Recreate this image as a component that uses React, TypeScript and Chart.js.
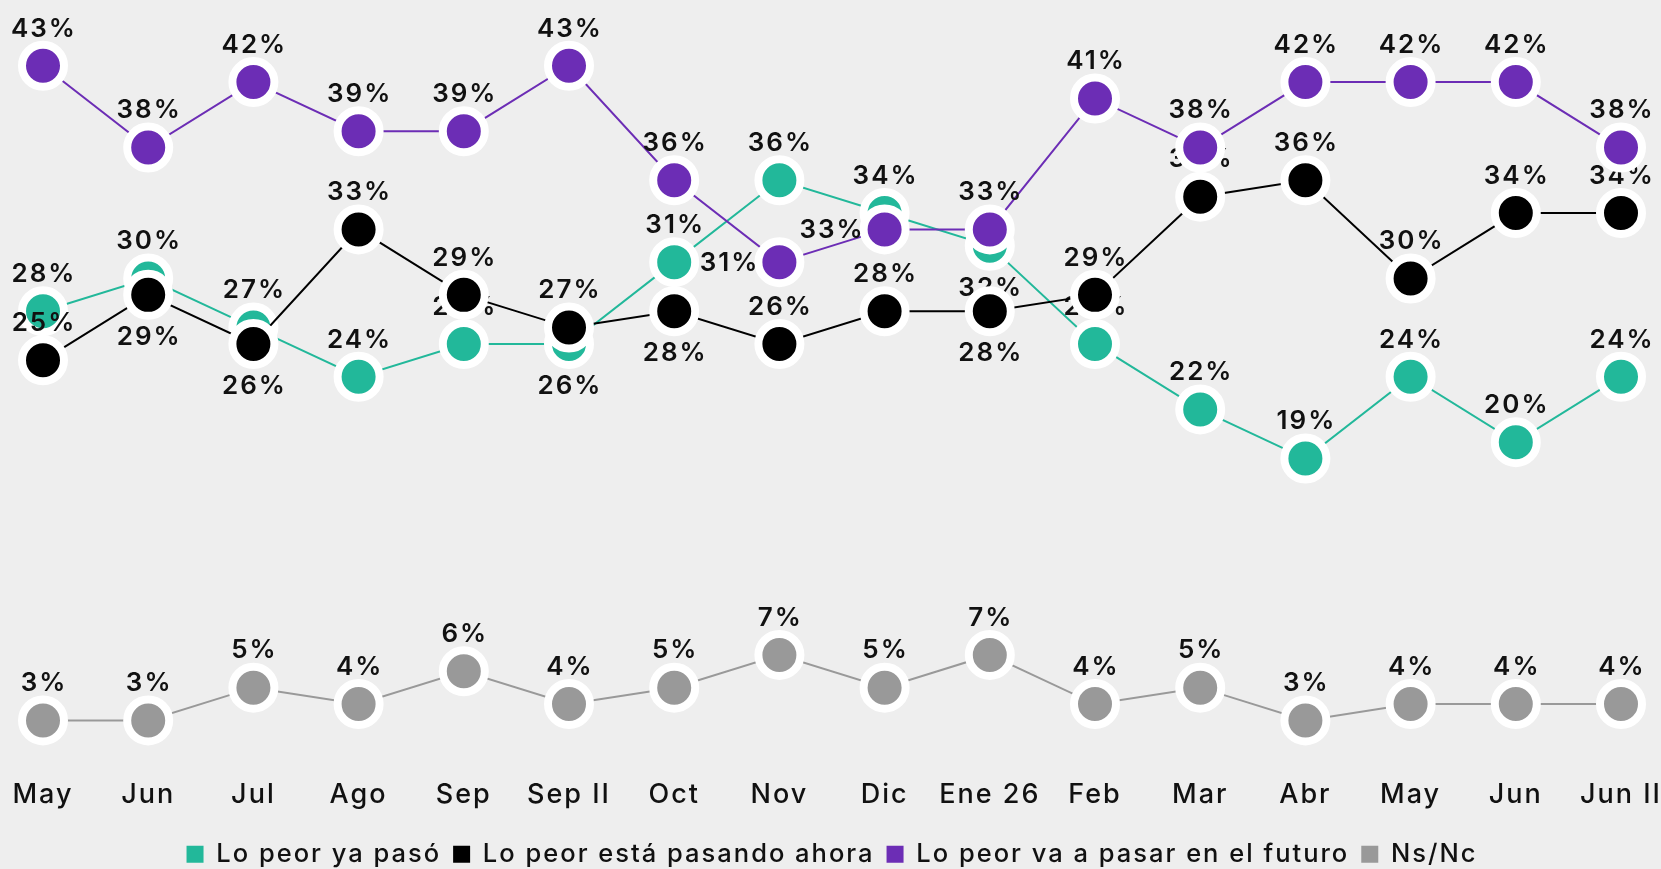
import React, { useEffect, useRef } from "react";
import { Chart, registerables } from "chart.js";

Chart.register(...registerables);

const categories = ["May", "Jun", "Jul", "Ago", "Sep", "Sep II", "Oct", "Nov", "Dic", "Ene 26", "Feb", "Mar", "Abr", "May", "Jun", "Jun II"];

const yaPaso = [28, 30, 27, 24, 26, 26, 31, 36, 34, 32, 26, 22, 19, 24, 20, 24];
const pasandoAhora = [25, 29, 26, 33, 29, 27, 28, 26, 28, 28, 29, 35, 36, 30, 34, 34];
const futuro = [43, 38, 42, 39, 39, 43, 36, 31, 33, 33, 41, 38, 42, 42, 42, 38];
const nsnc = [3, 3, 5, 4, 6, 4, 5, 7, 5, 7, 4, 5, 3, 4, 4, 4];

const seriesNames = ["Lo peor ya pasó", "Lo peor está pasando ahora", "Lo peor va a pasar en el futuro", "Ns/Nc"];

// label placement: t = above, b = below, l = left
const yaPasoAlign = ["t", "t", "t", "t", "t", "b", "t", "t", "t", "b", "t", "t", "t", "t", "t", "t"];
const pasandoAlign = ["t", "b", "b", "t", "t", "t", "b", "t", "t", "b", "t", "t", "t", "t", "t", "t"];
const futuroAlign = ["t", "t", "t", "t", "t", "t", "t", "l", "l", "t", "t", "t", "t", "t", "t", "t"];
const nsncAlign = ["t", "t", "t", "t", "t", "t", "t", "t", "t", "t", "t", "t", "t", "t", "t", "t"];

const COLORS = ["#22b89a", "#000000", "#6c2db5", "#999999"];
const FONT = "Inter, 'Open Sans', 'DejaVu Sans', sans-serif";
const SPACING = "2px";

const aligns = [yaPasoAlign, pasandoAlign, futuroAlign, nsncAlign];

const spacingPlugin = {
  id: "spacing",
  beforeUpdate(chart: any) {
    chart.ctx.letterSpacing = SPACING;
  },
  beforeLayout(chart: any) {
    chart.ctx.letterSpacing = SPACING;
  },
  beforeDraw(chart: any) {
    chart.ctx.letterSpacing = SPACING;
  },
};

const labelPlugin = {
  id: "pointLabels",
  afterDatasetDraw(chart: any, args: any) {
    const meta = args.meta;
    const di = args.index;
    const ds = chart.data.datasets[di];
    const ctx = chart.ctx;
    ctx.save();
    ctx.letterSpacing = SPACING;
    ctx.font = `600 26px ${FONT}`;
    ctx.fillStyle = "#111111";
    meta.data.forEach((pt: any, i: number) => {
      const v = ds.data[i];
      const a = aligns[di][i];
      const txt = `${v}%`;
      if (a === "t") {
        ctx.textAlign = "center";
        ctx.textBaseline = "bottom";
        ctx.fillText(txt, pt.x + 1, pt.y - 24);
      } else if (a === "b") {
        ctx.textAlign = "center";
        ctx.textBaseline = "top";
        ctx.fillText(txt, pt.x + 1, pt.y + 29);
      } else {
        ctx.textAlign = "right";
        ctx.textBaseline = "middle";
        ctx.fillText(txt, pt.x - 20, pt.y + 1);
      }
    });
    ctx.restore();
  },
};

export default function App() {
  const ref = useRef<HTMLCanvasElement | null>(null);
  useEffect(() => {
    if (!ref.current) return;
    const series = [yaPaso, pasandoAhora, futuro, nsnc];
    const chart = new Chart(ref.current, {
      type: "line",
      data: {
        labels: categories,
        datasets: series.map((d, i) => ({
          label: seriesNames[i],
          data: d,
          borderColor: COLORS[i],
          backgroundColor: COLORS[i],
          pointBackgroundColor: COLORS[i],
          pointBorderColor: "#ffffff",
          pointBorderWidth: 8,
          pointRadius: 21,
          pointHoverRadius: 21,
          borderWidth: 2,
          tension: 0,
          clip: false,
          order: 4 - i,
        })),
      },
      options: {
        animation: false,
        responsive: true,
        maintainAspectRatio: false,
        layout: { padding: { left: 43, right: 40, top: 33, bottom: -8 } },
        scales: {
          x: {
            grid: { display: false },
            border: { display: false },
            ticks: { color: "#111111", font: { family: FONT, size: 27, weight: 500 }, padding: 1, maxRotation: 0, autoSkip: false },
            afterFit: (scale: any) => {
              scale.height = 60;
              scale.paddingLeft = 0;
              scale.paddingRight = 0;
            },
          },
          y: { display: false, min: 0, max: 45 },
        },
        plugins: {
          legend: {
            position: "bottom",
            labels: {
              color: "#111111",
              font: { family: FONT, size: 25.5, weight: 500 },
              boxWidth: 17,
              boxHeight: 17,
              padding: 12,
              generateLabels: (chart: any) =>
                chart.data.datasets.map((ds: any, i: number) => ({
                  text: ds.label,
                  fillStyle: COLORS[i],
                  strokeStyle: COLORS[i],
                  lineWidth: 0,
                  hidden: false,
                  datasetIndex: i,
                  fontColor: "#111111",
                })),
            },
          },
          tooltip: { enabled: false },
        },
      },
      plugins: [spacingPlugin, labelPlugin],
    } as any);
    return () => chart.destroy();
  }, []);
  return (
    <div style={{ position: "fixed", left: 0, top: 0, width: 1661, height: 869, background: "#eeeeee" }}>
      <canvas ref={ref} />
    </div>
  );
}
